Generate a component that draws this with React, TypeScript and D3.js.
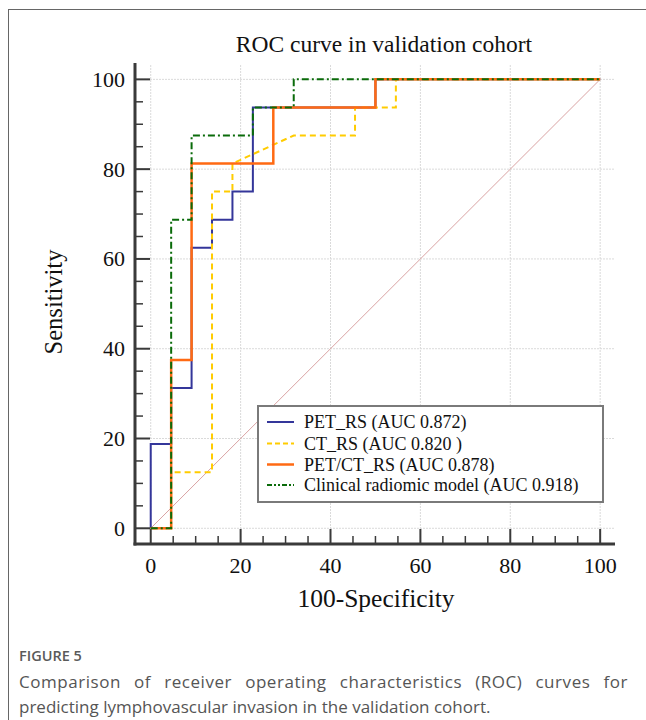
import React from "react";
import * as d3 from "d3";

const fprPetRs = [0, 0, 4.545, 4.545, 9.091, 9.091, 13.636, 13.636, 18.182, 18.182, 22.727, 22.727, 50, 50, 100];
const tprPetRs = [0, 18.75, 18.75, 31.25, 31.25, 62.5, 62.5, 68.75, 68.75, 75, 75, 93.75, 93.75, 100, 100];

const fprCtRs = [0, 4.545, 4.545, 13.636, 13.636, 18.182, 18.182, 31.818, 45.455, 45.455, 54.545, 54.545, 100];
const tprCtRs = [0, 0, 12.5, 12.5, 75, 75, 81.25, 87.5, 87.5, 93.75, 93.75, 100, 100];

const fprPetCtRs = [0, 4.545, 4.545, 9.091, 9.091, 27.273, 27.273, 50, 50, 100];
const tprPetCtRs = [0, 0, 37.5, 37.5, 81.25, 81.25, 93.75, 93.75, 100, 100];

const fprClinical = [0, 4.545, 4.545, 9.091, 9.091, 22.727, 22.727, 31.818, 31.818, 100];
const tprClinical = [0, 0, 68.75, 68.75, 87.5, 87.5, 93.75, 93.75, 100, 100];

const seriesNames = [
  "PET_RS (AUC 0.872)",
  "CT_RS (AUC 0.820 )",
  "PET/CT_RS (AUC 0.878)",
  "Clinical radiomic model (AUC 0.918)",
];
const majorTicks = [0, 20, 40, 60, 80, 100];
const minorTicks = d3.range(0, 101, 5);

const captionLine1 = "Comparison of receiver operating characteristics (ROC) curves for";
const captionLine2 = "predicting lymphovascular invasion in the validation cohort.";

const W = 646;
const H = 720;

const sans = "'Open Sans', 'Noto Sans', sans-serif";
const captionFont = `17px 'Open Sans'`;
const cap1Spacing = 0.55;

function justify(text: string, x0: number, x1: number) {
  const words = text.split(" ");
  let widths: number[] = words.map((w) => w.length * 8);
  try {
    const ctx = document.createElement("canvas").getContext("2d");
    if (ctx) {
      ctx.font = captionFont;
      widths = words.map((w) => ctx.measureText(w).width + cap1Spacing * w.length);
    }
  } catch (e) {}
  const total = widths.reduce((a, b) => a + b, 0);
  const gap = (x1 - x0 - total) / (words.length - 1);
  const xs: number[] = [];
  let cx = x0;
  words.forEach((w, i) => {
    xs.push(cx);
    cx += widths[i] + gap;
  });
  return words.map((w, i) => ({ w, x: xs[i] }));
}

export default function App() {
  const x = d3.scaleLinear().domain([-3.5, 103.3]).range([135, 615]);
  const y = d3.scaleLinear().domain([-3.5, 103.2]).range([544, 65]);
  const line = d3
    .line<[number, number]>()
    .x((d) => x(d[0]))
    .y((d) => y(d[1]));
  const zip = (a: number[], b: number[]) => a.map((v, i) => [v, b[i]] as [number, number]);

  const series = [
    { name: seriesNames[0], pts: zip(fprPetRs, tprPetRs), color: "#34369a", dash: "", w: 2 },
    { name: seriesNames[1], pts: zip(fprCtRs, tprCtRs), color: "#ffcc00", dash: "6,4", w: 2 },
    { name: seriesNames[2], pts: zip(fprPetCtRs, tprPetCtRs), color: "#ff6a13", dash: "", w: 2.5 },
    { name: seriesNames[3], pts: zip(fprClinical, tprClinical), color: "#0a6b0a", dash: "7,3,2,3", w: 2 },
  ];

  const serif = "'Liberation Serif', 'Times New Roman', serif";
  const axisColor = "#3a3a3a";

  const legX = 258, legY = 406, legW = 345, legH = 96;
  const rowY = [422, 443.5, 464.5, 485];

  const [cap1, setCap1] = React.useState(() => justify(captionLine1, 19, 628));
  React.useEffect(() => {
    if ((document as any).fonts && (document as any).fonts.load) {
      (document as any).fonts.load(captionFont).then(() => setCap1(justify(captionLine1, 19, 628))).catch(() => {});
    }
  }, []);

  return (
    <svg width={W} height={H} style={{ position: "absolute", left: 0, top: 0 }}>
      <rect x={0} y={0} width={W} height={H} fill="#fff" />
      <rect x={8.5} y={9.5} width={W} height={H} fill="none" stroke="#666" strokeWidth={1} />

      <text x={384} y={52} textAnchor="middle" fontFamily={serif} fontSize={23.5} fill="#111">
        ROC curve in validation cohort
      </text>

      {/* grid */}
      {majorTicks.map((t) => (
        <line key={"gx" + t} x1={x(t)} x2={x(t)} y1={65} y2={544} stroke="#dadada" strokeWidth={1} strokeDasharray="2,1" />
      ))}
      {majorTicks.map((t) => (
        <line key={"gy" + t} x1={135} x2={615} y1={y(t)} y2={y(t)} stroke="#dadada" strokeWidth={1} strokeDasharray="2,1" />
      ))}

      {/* diagonal */}
      <line x1={x(0)} y1={y(0)} x2={x(100)} y2={y(100)} stroke="#d9a3a3" strokeWidth={1} />

      {series.map((s) => (
        <path
          key={s.name}
          d={line(s.pts) || ""}
          fill="none"
          stroke={s.color}
          strokeWidth={s.w}
          strokeDasharray={s.dash || undefined}
        />
      ))}

      {/* axes */}
      <line x1={135} x2={135} y1={63} y2={545.5} stroke={axisColor} strokeWidth={3} />
      <line x1={133.5} x2={615} y1={544} y2={544} stroke={axisColor} strokeWidth={3} />
      {minorTicks.map((t) => {
        const major = t % 20 === 0;
        const len = major ? 15 : 8;
        return (
          <g key={"t" + t}>
            <line x1={135} x2={135 + len} y1={y(t)} y2={y(t)} stroke={axisColor} strokeWidth={major ? 2 : 1.5} />
            <line x1={x(t)} x2={x(t)} y1={544} y2={544 - len} stroke={axisColor} strokeWidth={major ? 2 : 1.5} />
          </g>
        );
      })}
      {majorTicks.map((t) => (
        <text key={"yl" + t} x={125} y={y(t) + 7.5} textAnchor="end" fontFamily={serif} fontSize={22} fill="#111">
          {t}
        </text>
      ))}
      {majorTicks.map((t) => (
        <text key={"xl" + t} x={x(t)} y={572.5} textAnchor="middle" fontFamily={serif} fontSize={22} fill="#111">
          {t}
        </text>
      ))}

      <text x={376} y={607} textAnchor="middle" fontFamily={serif} fontSize={25.5} fill="#111">
        100-Specificity
      </text>
      <text
        transform={`translate(62, 302) rotate(-90)`}
        textAnchor="middle"
        fontFamily={serif}
        fontSize={24.5}
        fill="#111"
      >
        Sensitivity
      </text>

      {/* legend */}
      <rect x={legX} y={legY} width={legW} height={legH} fill="#fff" stroke="#7a7a7a" strokeWidth={2} />
      {series.map((s, i) => (
        <g key={"lg" + i}>
          <line
            x1={267}
            x2={294}
            y1={rowY[i]}
            y2={rowY[i]}
            stroke={s.color}
            strokeWidth={s.w}
            strokeDasharray={s.dash ? (i === 3 ? "5,2,2,2,2,2" : "5,3") : undefined}
          />
          <text x={304} y={rowY[i] + 6} fontFamily={serif} fontSize={18} fill="#111">
            {s.name}
          </text>
        </g>
      ))}

      {/* caption */}
      <text x={19} y={661} fontFamily={sans} fontSize={14.5} fontWeight={600} fill="#5a5a5a">
        FIGURE 5
      </text>
      <text y={688} fontFamily={sans} fontSize={17} fill="#555" letterSpacing={cap1Spacing}>
        {cap1.map((c, i) => (
          <tspan key={i} x={c.x}>
            {c.w}
          </tspan>
        ))}
      </text>
      <text x={19} y={713} fontFamily={sans} fontSize={17} fill="#555">
        {captionLine2}
      </text>
    </svg>
  );
}
